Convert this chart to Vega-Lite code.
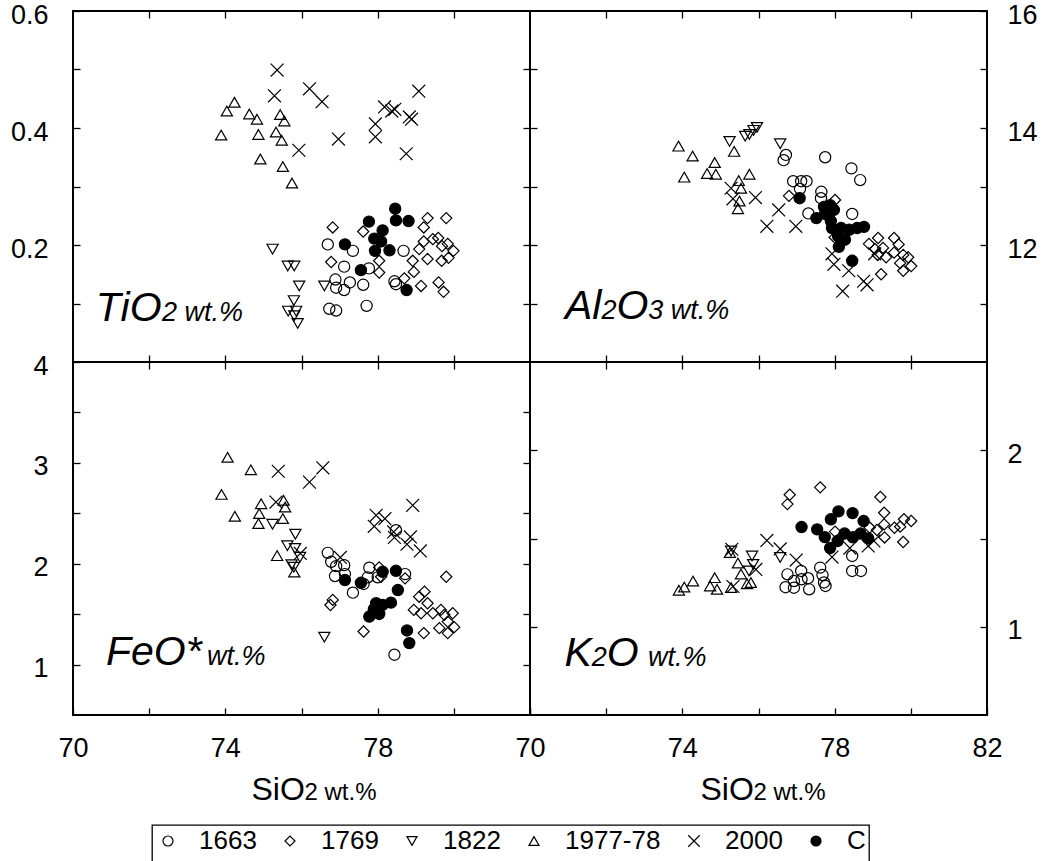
{
"$schema":"https://vega.github.io/schema/vega-lite/v6.json",
"background":"white",
"padding":{"left":9,"top":0,"right":0,"bottom":0},
"config":{
 "font":"Liberation Sans",
 "view":{"stroke":"black","strokeWidth":2},
 "axis":{"labelFont":"Liberation Sans","labelFontSize":27,"labelColor":"black","tickColor":"black","tickWidth":1.3,"domain":false,"grid":false,"labelFlush":false,"labelOverlap":false,"labelBound":false,"titleFont":"Liberation Sans","titleColor":"black","titleFontWeight":"normal"},
 "legend":{"strokeWidth":1.3}
},
"datasets":{
"pts":[
{"panel":"TiO2","group":"1977-78","SiO2":73.89,"oxide":0.388},{"panel":"TiO2","group":"1977-78","SiO2":74.04,"oxide":0.429},{"panel":"TiO2","group":"1977-78","SiO2":74.24,"oxide":0.444},{"panel":"TiO2","group":"1977-78","SiO2":74.63,"oxide":0.424},{"panel":"TiO2","group":"1977-78","SiO2":74.83,"oxide":0.415},{"panel":"TiO2","group":"1977-78","SiO2":74.87,"oxide":0.389},{"panel":"TiO2","group":"1977-78","SiO2":74.92,"oxide":0.347},{"panel":"TiO2","group":"1977-78","SiO2":75.44,"oxide":0.423},{"panel":"TiO2","group":"1977-78","SiO2":75.55,"oxide":0.412},{"panel":"TiO2","group":"1977-78","SiO2":75.33,"oxide":0.393},{"panel":"TiO2","group":"1977-78","SiO2":75.48,"oxide":0.379},{"panel":"TiO2","group":"1977-78","SiO2":75.51,"oxide":0.334},{"panel":"TiO2","group":"1977-78","SiO2":75.75,"oxide":0.306},
{"panel":"TiO2","group":"2000","SiO2":75.36,"oxide":0.499},{"panel":"TiO2","group":"2000","SiO2":75.29,"oxide":0.455},{"panel":"TiO2","group":"2000","SiO2":76.21,"oxide":0.467},{"panel":"TiO2","group":"2000","SiO2":76.54,"oxide":0.445},{"panel":"TiO2","group":"2000","SiO2":75.93,"oxide":0.362},{"panel":"TiO2","group":"2000","SiO2":76.97,"oxide":0.381},{"panel":"TiO2","group":"2000","SiO2":77.94,"oxide":0.407},{"panel":"TiO2","group":"2000","SiO2":77.94,"oxide":0.385},{"panel":"TiO2","group":"2000","SiO2":78.18,"oxide":0.436},{"panel":"TiO2","group":"2000","SiO2":78.37,"oxide":0.429},{"panel":"TiO2","group":"2000","SiO2":78.45,"oxide":0.432},{"panel":"TiO2","group":"2000","SiO2":78.83,"oxide":0.419},{"panel":"TiO2","group":"2000","SiO2":78.89,"oxide":0.415},{"panel":"TiO2","group":"2000","SiO2":79.08,"oxide":0.463},{"panel":"TiO2","group":"2000","SiO2":78.75,"oxide":0.356},
{"panel":"TiO2","group":"1822","SiO2":75.24,"oxide":0.193},{"panel":"TiO2","group":"1822","SiO2":75.64,"oxide":0.164},{"panel":"TiO2","group":"1822","SiO2":75.81,"oxide":0.164},{"panel":"TiO2","group":"1822","SiO2":75.94,"oxide":0.130},{"panel":"TiO2","group":"1822","SiO2":75.80,"oxide":0.105},{"panel":"TiO2","group":"1822","SiO2":75.65,"oxide":0.087},{"panel":"TiO2","group":"1822","SiO2":75.86,"oxide":0.087},{"panel":"TiO2","group":"1822","SiO2":75.81,"oxide":0.079},{"panel":"TiO2","group":"1822","SiO2":75.90,"oxide":0.066},{"panel":"TiO2","group":"1822","SiO2":76.60,"oxide":0.130},
{"panel":"TiO2","group":"1663","SiO2":76.69,"oxide":0.201},{"panel":"TiO2","group":"1663","SiO2":77.35,"oxide":0.190},{"panel":"TiO2","group":"1663","SiO2":77.12,"oxide":0.163},{"panel":"TiO2","group":"1663","SiO2":76.89,"oxide":0.141},{"panel":"TiO2","group":"1663","SiO2":76.91,"oxide":0.127},{"panel":"TiO2","group":"1663","SiO2":77.12,"oxide":0.123},{"panel":"TiO2","group":"1663","SiO2":77.27,"oxide":0.136},{"panel":"TiO2","group":"1663","SiO2":77.62,"oxide":0.132},{"panel":"TiO2","group":"1663","SiO2":77.77,"oxide":0.160},{"panel":"TiO2","group":"1663","SiO2":76.73,"oxide":0.091},{"panel":"TiO2","group":"1663","SiO2":76.91,"oxide":0.088},{"panel":"TiO2","group":"1663","SiO2":77.71,"oxide":0.096},{"panel":"TiO2","group":"1663","SiO2":78.44,"oxide":0.138},{"panel":"TiO2","group":"1663","SiO2":78.48,"oxide":0.133},{"panel":"TiO2","group":"1663","SiO2":78.68,"oxide":0.190},
{"panel":"TiO2","group":"1769","SiO2":76.82,"oxide":0.230},{"panel":"TiO2","group":"1769","SiO2":76.78,"oxide":0.171},{"panel":"TiO2","group":"1769","SiO2":77.62,"oxide":0.223},{"panel":"TiO2","group":"1769","SiO2":78.04,"oxide":0.173},{"panel":"TiO2","group":"1769","SiO2":78.04,"oxide":0.153},{"panel":"TiO2","group":"1769","SiO2":78.70,"oxide":0.143},{"panel":"TiO2","group":"1769","SiO2":78.95,"oxide":0.154},{"panel":"TiO2","group":"1769","SiO2":79.14,"oxide":0.130},{"panel":"TiO2","group":"1769","SiO2":78.92,"oxide":0.173},{"panel":"TiO2","group":"1769","SiO2":79.09,"oxide":0.193},{"panel":"TiO2","group":"1769","SiO2":79.21,"oxide":0.206},{"panel":"TiO2","group":"1769","SiO2":79.31,"oxide":0.246},{"panel":"TiO2","group":"1769","SiO2":79.21,"oxide":0.230},{"panel":"TiO2","group":"1769","SiO2":79.80,"oxide":0.246},{"panel":"TiO2","group":"1769","SiO2":79.31,"oxide":0.176},{"panel":"TiO2","group":"1769","SiO2":79.59,"oxide":0.212},{"panel":"TiO2","group":"1769","SiO2":79.69,"oxide":0.198},{"panel":"TiO2","group":"1769","SiO2":79.84,"oxide":0.202},{"panel":"TiO2","group":"1769","SiO2":79.68,"oxide":0.173},{"panel":"TiO2","group":"1769","SiO2":79.86,"oxide":0.178},{"panel":"TiO2","group":"1769","SiO2":79.99,"oxide":0.190},{"panel":"TiO2","group":"1769","SiO2":79.60,"oxide":0.136},{"panel":"TiO2","group":"1769","SiO2":79.73,"oxide":0.120},{"panel":"TiO2","group":"1769","SiO2":79.45,"oxide":0.210},
{"panel":"TiO2","group":"C","SiO2":77.14,"oxide":0.201},{"panel":"TiO2","group":"C","SiO2":77.77,"oxide":0.240},{"panel":"TiO2","group":"C","SiO2":78.46,"oxide":0.262},{"panel":"TiO2","group":"C","SiO2":78.48,"oxide":0.242},{"panel":"TiO2","group":"C","SiO2":78.81,"oxide":0.241},{"panel":"TiO2","group":"C","SiO2":78.13,"oxide":0.225},{"panel":"TiO2","group":"C","SiO2":77.91,"oxide":0.211},{"panel":"TiO2","group":"C","SiO2":78.09,"oxide":0.206},{"panel":"TiO2","group":"C","SiO2":77.93,"oxide":0.190},{"panel":"TiO2","group":"C","SiO2":78.31,"oxide":0.191},{"panel":"TiO2","group":"C","SiO2":77.56,"oxide":0.157},{"panel":"TiO2","group":"C","SiO2":78.76,"oxide":0.123},

{"panel":"Al2O3","group":"1977-78","SiO2":73.90,"oxide":13.69},{"panel":"Al2O3","group":"1977-78","SiO2":74.27,"oxide":13.52},{"panel":"Al2O3","group":"1977-78","SiO2":74.05,"oxide":13.16},{"panel":"Al2O3","group":"1977-78","SiO2":74.65,"oxide":13.22},{"panel":"Al2O3","group":"1977-78","SiO2":74.85,"oxide":13.41},{"panel":"Al2O3","group":"1977-78","SiO2":74.88,"oxide":13.21},{"panel":"Al2O3","group":"1977-78","SiO2":75.36,"oxide":13.60},{"panel":"Al2O3","group":"1977-78","SiO2":75.76,"oxide":13.21},{"panel":"Al2O3","group":"1977-78","SiO2":75.48,"oxide":13.10},{"panel":"Al2O3","group":"1977-78","SiO2":75.54,"oxide":12.97},{"panel":"Al2O3","group":"1977-78","SiO2":75.50,"oxide":12.75},{"panel":"Al2O3","group":"1977-78","SiO2":75.46,"oxide":12.62},
{"panel":"Al2O3","group":"1822","SiO2":75.24,"oxide":13.77},{"panel":"Al2O3","group":"1822","SiO2":75.65,"oxide":13.86},{"panel":"Al2O3","group":"1822","SiO2":75.76,"oxide":13.89},{"panel":"Al2O3","group":"1822","SiO2":75.87,"oxide":13.96},{"panel":"Al2O3","group":"1822","SiO2":75.96,"oxide":14.01},{"panel":"Al2O3","group":"1822","SiO2":76.57,"oxide":13.73},
{"panel":"Al2O3","group":"1663","SiO2":76.72,"oxide":13.54},{"panel":"Al2O3","group":"1663","SiO2":76.66,"oxide":13.45},{"panel":"Al2O3","group":"1663","SiO2":77.75,"oxide":13.50},{"panel":"Al2O3","group":"1663","SiO2":78.44,"oxide":13.31},{"panel":"Al2O3","group":"1663","SiO2":78.67,"oxide":13.11},{"panel":"Al2O3","group":"1663","SiO2":76.91,"oxide":13.09},{"panel":"Al2O3","group":"1663","SiO2":77.12,"oxide":13.09},{"panel":"Al2O3","group":"1663","SiO2":77.26,"oxide":13.09},{"panel":"Al2O3","group":"1663","SiO2":77.65,"oxide":12.91},{"panel":"Al2O3","group":"1663","SiO2":77.64,"oxide":12.80},{"panel":"Al2O3","group":"1663","SiO2":77.31,"oxide":12.54},{"panel":"Al2O3","group":"1663","SiO2":78.46,"oxide":12.53},{"panel":"Al2O3","group":"1663","SiO2":77.09,"oxide":12.96},
{"panel":"Al2O3","group":"1769","SiO2":76.80,"oxide":12.84},{"panel":"Al2O3","group":"1769","SiO2":78.01,"oxide":12.77},{"panel":"Al2O3","group":"1769","SiO2":78.00,"oxide":12.13},{"panel":"Al2O3","group":"1769","SiO2":78.90,"oxide":12.02},{"panel":"Al2O3","group":"1769","SiO2":79.14,"oxide":12.12},{"panel":"Al2O3","group":"1769","SiO2":79.27,"oxide":11.95},{"panel":"Al2O3","group":"1769","SiO2":79.13,"oxide":11.83},{"panel":"Al2O3","group":"1769","SiO2":79.35,"oxide":11.79},{"panel":"Al2O3","group":"1769","SiO2":79.56,"oxide":12.12},{"panel":"Al2O3","group":"1769","SiO2":79.68,"oxide":12.01},{"panel":"Al2O3","group":"1769","SiO2":79.56,"oxide":11.87},{"panel":"Al2O3","group":"1769","SiO2":79.80,"oxide":11.83},{"panel":"Al2O3","group":"1769","SiO2":79.93,"oxide":11.79},{"panel":"Al2O3","group":"1769","SiO2":79.72,"oxide":11.69},{"panel":"Al2O3","group":"1769","SiO2":79.80,"oxide":11.56},{"panel":"Al2O3","group":"1769","SiO2":80.01,"oxide":11.64},{"panel":"Al2O3","group":"1769","SiO2":79.22,"oxide":11.50},{"panel":"Al2O3","group":"1769","SiO2":79.06,"oxide":11.93},
{"panel":"Al2O3","group":"2000","SiO2":75.28,"oxide":12.97},{"panel":"Al2O3","group":"2000","SiO2":75.33,"oxide":12.79},{"panel":"Al2O3","group":"2000","SiO2":75.92,"oxide":12.81},{"panel":"Al2O3","group":"2000","SiO2":76.53,"oxide":12.60},{"panel":"Al2O3","group":"2000","SiO2":76.22,"oxide":12.32},{"panel":"Al2O3","group":"2000","SiO2":76.98,"oxide":12.32},{"panel":"Al2O3","group":"2000","SiO2":77.93,"oxide":11.85},{"panel":"Al2O3","group":"2000","SiO2":77.98,"oxide":11.67},{"panel":"Al2O3","group":"2000","SiO2":78.37,"oxide":11.56},{"panel":"Al2O3","group":"2000","SiO2":78.76,"oxide":11.38},{"panel":"Al2O3","group":"2000","SiO2":78.85,"oxide":11.32},{"panel":"Al2O3","group":"2000","SiO2":78.21,"oxide":11.21},{"panel":"Al2O3","group":"2000","SiO2":79.05,"oxide":11.85},
{"panel":"Al2O3","group":"C","SiO2":77.08,"oxide":12.80},{"panel":"Al2O3","group":"C","SiO2":77.52,"oxide":12.46},{"panel":"Al2O3","group":"C","SiO2":77.72,"oxide":12.65},{"panel":"Al2O3","group":"C","SiO2":77.88,"oxide":12.68},{"panel":"Al2O3","group":"C","SiO2":77.98,"oxide":12.60},{"panel":"Al2O3","group":"C","SiO2":77.75,"oxide":12.53},{"panel":"Al2O3","group":"C","SiO2":77.90,"oxide":12.41},{"panel":"Al2O3","group":"C","SiO2":77.93,"oxide":12.29},{"panel":"Al2O3","group":"C","SiO2":78.17,"oxide":12.29},{"panel":"Al2O3","group":"C","SiO2":78.38,"oxide":12.26},{"panel":"Al2O3","group":"C","SiO2":78.59,"oxide":12.29},{"panel":"Al2O3","group":"C","SiO2":78.77,"oxide":12.31},{"panel":"Al2O3","group":"C","SiO2":78.09,"oxide":12.15},{"panel":"Al2O3","group":"C","SiO2":78.27,"oxide":12.09},{"panel":"Al2O3","group":"C","SiO2":78.11,"oxide":11.97},{"panel":"Al2O3","group":"C","SiO2":78.46,"oxide":11.73},

{"panel":"FeO","group":"1977-78","SiO2":74.06,"oxide":3.055},{"panel":"FeO","group":"1977-78","SiO2":74.67,"oxide":2.931},{"panel":"FeO","group":"1977-78","SiO2":73.90,"oxide":2.687},{"panel":"FeO","group":"1977-78","SiO2":74.25,"oxide":2.470},{"panel":"FeO","group":"1977-78","SiO2":74.94,"oxide":2.595},{"panel":"FeO","group":"1977-78","SiO2":74.89,"oxide":2.497},{"panel":"FeO","group":"1977-78","SiO2":74.87,"oxide":2.398},{"panel":"FeO","group":"1977-78","SiO2":75.53,"oxide":2.628},{"panel":"FeO","group":"1977-78","SiO2":75.57,"oxide":2.562},{"panel":"FeO","group":"1977-78","SiO2":75.51,"oxide":2.447},{"panel":"FeO","group":"1977-78","SiO2":75.36,"oxide":2.080},{"panel":"FeO","group":"1977-78","SiO2":75.81,"oxide":1.917},
{"panel":"FeO","group":"1822","SiO2":75.24,"oxide":2.391},{"panel":"FeO","group":"1822","SiO2":75.84,"oxide":2.292},{"panel":"FeO","group":"1822","SiO2":75.63,"oxide":2.179},{"panel":"FeO","group":"1822","SiO2":75.83,"oxide":2.151},{"panel":"FeO","group":"1822","SiO2":75.96,"oxide":2.065},{"panel":"FeO","group":"1822","SiO2":75.74,"oxide":1.991},{"panel":"FeO","group":"1822","SiO2":75.80,"oxide":1.966},{"panel":"FeO","group":"1822","SiO2":76.60,"oxide":1.272},
{"panel":"FeO","group":"2000","SiO2":75.39,"oxide":2.917},{"panel":"FeO","group":"2000","SiO2":76.56,"oxide":2.951},{"panel":"FeO","group":"2000","SiO2":76.21,"oxide":2.809},{"panel":"FeO","group":"2000","SiO2":75.33,"oxide":2.611},{"panel":"FeO","group":"2000","SiO2":75.97,"oxide":2.102},{"panel":"FeO","group":"2000","SiO2":77.96,"oxide":2.480},{"panel":"FeO","group":"2000","SiO2":78.19,"oxide":2.447},{"panel":"FeO","group":"2000","SiO2":77.91,"oxide":2.371},{"panel":"FeO","group":"2000","SiO2":78.92,"oxide":2.579},{"panel":"FeO","group":"2000","SiO2":78.42,"oxide":2.315},{"panel":"FeO","group":"2000","SiO2":78.44,"oxide":2.260},{"panel":"FeO","group":"2000","SiO2":78.86,"oxide":2.266},{"panel":"FeO","group":"2000","SiO2":78.77,"oxide":2.193},{"panel":"FeO","group":"2000","SiO2":79.12,"oxide":2.127},{"panel":"FeO","group":"2000","SiO2":77.02,"oxide":2.062},
{"panel":"FeO","group":"1663","SiO2":76.69,"oxide":2.108},{"panel":"FeO","group":"1663","SiO2":76.78,"oxide":2.019},{"panel":"FeO","group":"1663","SiO2":76.91,"oxide":1.976},{"panel":"FeO","group":"1663","SiO2":77.12,"oxide":1.986},{"panel":"FeO","group":"1663","SiO2":76.88,"oxide":1.878},{"panel":"FeO","group":"1663","SiO2":77.14,"oxide":1.897},{"panel":"FeO","group":"1663","SiO2":77.35,"oxide":1.713},{"panel":"FeO","group":"1663","SiO2":77.63,"oxide":1.799},{"panel":"FeO","group":"1663","SiO2":77.74,"oxide":1.865},{"panel":"FeO","group":"1663","SiO2":77.78,"oxide":1.960},{"panel":"FeO","group":"1663","SiO2":78.00,"oxide":1.865},{"panel":"FeO","group":"1663","SiO2":78.72,"oxide":1.897},{"panel":"FeO","group":"1663","SiO2":78.44,"oxide":1.098},{"panel":"FeO","group":"1663","SiO2":78.48,"oxide":2.332},
{"panel":"FeO","group":"1769","SiO2":76.82,"oxide":1.641},{"panel":"FeO","group":"1769","SiO2":76.76,"oxide":1.591},{"panel":"FeO","group":"1769","SiO2":78.04,"oxide":1.963},{"panel":"FeO","group":"1769","SiO2":78.09,"oxide":1.871},{"panel":"FeO","group":"1769","SiO2":78.72,"oxide":1.855},{"panel":"FeO","group":"1769","SiO2":77.63,"oxide":1.328},{"panel":"FeO","group":"1769","SiO2":79.21,"oxide":1.312},{"panel":"FeO","group":"1769","SiO2":79.80,"oxide":1.871},{"panel":"FeO","group":"1769","SiO2":79.23,"oxide":1.723},{"panel":"FeO","group":"1769","SiO2":79.09,"oxide":1.673},{"panel":"FeO","group":"1769","SiO2":79.31,"oxide":1.608},{"panel":"FeO","group":"1769","SiO2":78.95,"oxide":1.542},{"panel":"FeO","group":"1769","SiO2":79.14,"oxide":1.509},{"panel":"FeO","group":"1769","SiO2":79.45,"oxide":1.509},{"panel":"FeO","group":"1769","SiO2":79.66,"oxide":1.542},{"panel":"FeO","group":"1769","SiO2":79.75,"oxide":1.493},{"panel":"FeO","group":"1769","SiO2":79.97,"oxide":1.509},{"panel":"FeO","group":"1769","SiO2":79.84,"oxide":1.426},{"panel":"FeO","group":"1769","SiO2":80.01,"oxide":1.371},{"panel":"FeO","group":"1769","SiO2":79.62,"oxide":1.361},{"panel":"FeO","group":"1769","SiO2":79.84,"oxide":1.312},
{"panel":"FeO","group":"C","SiO2":77.14,"oxide":1.838},{"panel":"FeO","group":"C","SiO2":77.56,"oxide":1.811},{"panel":"FeO","group":"C","SiO2":78.13,"oxide":1.920},{"panel":"FeO","group":"C","SiO2":78.48,"oxide":1.930},{"panel":"FeO","group":"C","SiO2":78.53,"oxide":1.739},{"panel":"FeO","group":"C","SiO2":78.35,"oxide":1.614},{"panel":"FeO","group":"C","SiO2":78.13,"oxide":1.591},{"panel":"FeO","group":"C","SiO2":77.96,"oxide":1.608},{"panel":"FeO","group":"C","SiO2":77.90,"oxide":1.549},{"panel":"FeO","group":"C","SiO2":77.78,"oxide":1.476},{"panel":"FeO","group":"C","SiO2":78.04,"oxide":1.502},{"panel":"FeO","group":"C","SiO2":78.77,"oxide":1.338},{"panel":"FeO","group":"C","SiO2":78.83,"oxide":1.213},

{"panel":"K2O","group":"1977-78","SiO2":73.91,"oxide":1.207},{"panel":"K2O","group":"1977-78","SiO2":74.05,"oxide":1.225},{"panel":"K2O","group":"1977-78","SiO2":74.28,"oxide":1.259},{"panel":"K2O","group":"1977-78","SiO2":74.73,"oxide":1.231},{"panel":"K2O","group":"1977-78","SiO2":74.85,"oxide":1.278},{"panel":"K2O","group":"1977-78","SiO2":74.91,"oxide":1.212},{"panel":"K2O","group":"1977-78","SiO2":75.28,"oxide":1.222},{"panel":"K2O","group":"1977-78","SiO2":75.46,"oxide":1.361},{"panel":"K2O","group":"1977-78","SiO2":75.54,"oxide":1.299},{"panel":"K2O","group":"1977-78","SiO2":75.70,"oxide":1.244},{"panel":"K2O","group":"1977-78","SiO2":75.25,"oxide":1.421},{"panel":"K2O","group":"1977-78","SiO2":75.80,"oxide":1.250},
{"panel":"K2O","group":"1822","SiO2":75.28,"oxide":1.429},{"panel":"K2O","group":"1822","SiO2":75.83,"oxide":1.401},{"panel":"K2O","group":"1822","SiO2":75.86,"oxide":1.353},{"panel":"K2O","group":"1822","SiO2":76.57,"oxide":1.392},{"panel":"K2O","group":"1822","SiO2":75.75,"oxide":1.316},
{"panel":"K2O","group":"2000","SiO2":75.30,"oxide":1.439},{"panel":"K2O","group":"2000","SiO2":76.22,"oxide":1.489},{"panel":"K2O","group":"2000","SiO2":76.57,"oxide":1.441},{"panel":"K2O","group":"2000","SiO2":76.99,"oxide":1.378},{"panel":"K2O","group":"2000","SiO2":75.93,"oxide":1.325},{"panel":"K2O","group":"2000","SiO2":75.33,"oxide":1.228},{"panel":"K2O","group":"2000","SiO2":77.93,"oxide":1.395},{"panel":"K2O","group":"2000","SiO2":78.40,"oxide":1.446},{"panel":"K2O","group":"2000","SiO2":78.88,"oxide":1.458},{"panel":"K2O","group":"2000","SiO2":79.03,"oxide":1.486},
{"panel":"K2O","group":"1663","SiO2":76.76,"oxide":1.297},{"panel":"K2O","group":"1663","SiO2":77.12,"oxide":1.316},{"panel":"K2O","group":"1663","SiO2":76.71,"oxide":1.224},{"panel":"K2O","group":"1663","SiO2":76.93,"oxide":1.221},{"panel":"K2O","group":"1663","SiO2":77.13,"oxide":1.269},{"panel":"K2O","group":"1663","SiO2":77.30,"oxide":1.275},{"panel":"K2O","group":"1663","SiO2":77.33,"oxide":1.212},{"panel":"K2O","group":"1663","SiO2":77.62,"oxide":1.335},{"panel":"K2O","group":"1663","SiO2":77.68,"oxide":1.293},{"panel":"K2O","group":"1663","SiO2":77.72,"oxide":1.251},{"panel":"K2O","group":"1663","SiO2":77.76,"oxide":1.231},{"panel":"K2O","group":"1663","SiO2":78.46,"oxide":1.401},{"panel":"K2O","group":"1663","SiO2":78.46,"oxide":1.316},{"panel":"K2O","group":"1663","SiO2":78.69,"oxide":1.316},{"panel":"K2O","group":"1663","SiO2":76.93,"oxide":1.259},
{"panel":"K2O","group":"1769","SiO2":76.82,"oxide":1.748},{"panel":"K2O","group":"1769","SiO2":76.76,"oxide":1.695},{"panel":"K2O","group":"1769","SiO2":77.62,"oxide":1.790},{"panel":"K2O","group":"1769","SiO2":79.20,"oxide":1.735},{"panel":"K2O","group":"1769","SiO2":79.30,"oxide":1.646},{"panel":"K2O","group":"1769","SiO2":79.82,"oxide":1.609},{"panel":"K2O","group":"1769","SiO2":80.01,"oxide":1.599},{"panel":"K2O","group":"1769","SiO2":79.72,"oxide":1.567},{"panel":"K2O","group":"1769","SiO2":79.57,"oxide":1.561},{"panel":"K2O","group":"1769","SiO2":79.30,"oxide":1.580},{"panel":"K2O","group":"1769","SiO2":79.11,"oxide":1.548},{"panel":"K2O","group":"1769","SiO2":79.31,"oxide":1.506},{"panel":"K2O","group":"1769","SiO2":79.80,"oxide":1.480},{"panel":"K2O","group":"1769","SiO2":78.92,"oxide":1.562},{"panel":"K2O","group":"1769","SiO2":78.01,"oxide":1.539},
{"panel":"K2O","group":"C","SiO2":77.13,"oxide":1.565},{"panel":"K2O","group":"C","SiO2":77.54,"oxide":1.552},{"panel":"K2O","group":"C","SiO2":77.90,"oxide":1.609},{"panel":"K2O","group":"C","SiO2":78.10,"oxide":1.654},{"panel":"K2O","group":"C","SiO2":78.47,"oxide":1.644},{"panel":"K2O","group":"C","SiO2":78.76,"oxide":1.599},{"panel":"K2O","group":"C","SiO2":77.74,"oxide":1.508},{"panel":"K2O","group":"C","SiO2":77.88,"oxide":1.446},{"panel":"K2O","group":"C","SiO2":78.26,"oxide":1.528},{"panel":"K2O","group":"C","SiO2":78.48,"oxide":1.507},{"panel":"K2O","group":"C","SiO2":78.68,"oxide":1.528},{"panel":"K2O","group":"C","SiO2":78.88,"oxide":1.501},{"panel":"K2O","group":"C","SiO2":78.08,"oxide":1.486}
],
"lbl":[
{"panel":"TiO2","t":"TiO","SiO2":70.60,"oxide":0.070,"big":true},{"panel":"TiO2","t":"2 wt.%","SiO2":72.337,"oxide":0.070,"big":false},
{"panel":"Al2O3","t":"Al","SiO2":70.919,"oxide":10.735,"big":true},{"panel":"Al2O3","t":"2","SiO2":71.875,"oxide":10.735,"big":false},{"panel":"Al2O3","t":"O","SiO2":72.269,"oxide":10.735,"big":true},{"panel":"Al2O3","t":"3 wt.%","SiO2":73.107,"oxide":10.735,"big":false},
{"panel":"FeO","t":"FeO*","SiO2":70.867,"oxide":1.0,"big":true},{"panel":"FeO","t":"wt.%","SiO2":73.519,"oxide":1.0,"big":false},
{"panel":"K2O","t":"K","SiO2":70.906,"oxide":0.778,"big":true},{"panel":"K2O","t":"2","SiO2":71.623,"oxide":0.778,"big":false},{"panel":"K2O","t":"O","SiO2":72.017,"oxide":0.778,"big":true},{"panel":"K2O","t":"wt.%","SiO2":73.099,"oxide":0.778,"big":false}
]
},
"columns":2,
"spacing":0,
"bounds":"flush",
"resolve":{"scale":{"shape":"shared","fill":"shared","stroke":"shared"},"legend":{"shape":"shared","fill":"shared","stroke":"shared"}},
"concat":[
 {"width":457,"height":351,
  "layer":[
   {"data":{"name":"pts"},"transform":[{"filter":"datum.panel=='TiO2'"}],
    "mark":{"type":"point","filled":false,"size":125,"strokeWidth":1.2,"opacity":1},
    "encoding":{
     "x":{"field":"SiO2","type":"quantitative","scale":{"domain":[70,82],"nice":false,"zero":false},"axis":{"orient":"bottom","labels":false,"tickSize":7,"offset":-7,"values":[72,74,76,78,80],"title":null}},
     "y":{"field":"oxide","type":"quantitative","scale":{"domain":[0,0.6],"nice":false,"zero":false},"axis":{"orient":"left","values":[0.1,0.2,0.3,0.4,0.5,0.6],"format":".1f","labelExpr":"round(datum.value*10)%2==1?'':datum.label","tickSize":7,"offset":-7,"labelPadding":25,"labelOffset":4,"title":null}},
     "shape":{"field":"group","type":"nominal","scale":{"domain":["1663","1769","1822","1977-78","2000","C"],"range":["circle","diamond","triangle-down","triangle-up","M-1.15,-1.15L1.15,1.15M-1.15,1.15L1.15,-1.15","circle"]},
      "legend":{"orient":"none","legendX":79,"legendY":814,"direction":"horizontal","columns":6,"title":[" "," "," "],"titleOrient":"left","titleFontSize":10,"titleLineHeight":14,"titlePadding":0,"strokeColor":"black","padding":3,"labelFont":"Liberation Sans","labelFontSize":26,"labelColor":"black","labelOffset":18,"columnPadding":20,"symbolSize":100,"symbolStrokeWidth":1.2,"fillColor":"white"}},
     "fill":{"field":"group","type":"nominal","scale":{"domain":["1663","1769","1822","1977-78","2000","C"],"range":["transparent","transparent","transparent","transparent","transparent","black"]}},
     "stroke":{"field":"group","type":"nominal","scale":{"domain":["1663","1769","1822","1977-78","2000","C"],"range":["black","black","black","black","black","black"]}}
    }},
   {"data":{"name":"lbl"},"transform":[{"filter":"datum.panel=='TiO2' && datum.big"}],
    "mark":{"type":"text","font":"Liberation Sans","fontStyle":"italic","fontSize":41,"align":"left","baseline":"alphabetic","color":"black"},
    "encoding":{
     "x":{"field":"SiO2","type":"quantitative","scale":{"domain":[70,82],"nice":false,"zero":false},"axis":{"orient":"top","labels":false,"tickSize":7,"offset":-7,"values":[72,74,76,78,80],"title":null}},
     "y":{"field":"oxide","type":"quantitative","scale":{"domain":[0,0.6],"nice":false,"zero":false},"axis":{"orient":"right","labels":false,"tickSize":7,"offset":-7,"values":[0.1,0.2,0.3,0.4,0.5],"title":null}},
     "text":{"field":"t"}}},
   {"data":{"name":"lbl"},"transform":[{"filter":"datum.panel=='TiO2' && !datum.big"}],
    "mark":{"type":"text","font":"Liberation Sans","fontStyle":"italic","fontSize":27,"align":"left","baseline":"alphabetic","color":"black"},
    "encoding":{
     "x":{"field":"SiO2","type":"quantitative","scale":{"domain":[70,82],"nice":false,"zero":false},"axis":null},
     "y":{"field":"oxide","type":"quantitative","scale":{"domain":[0,0.6],"nice":false,"zero":false},"axis":null},
     "text":{"field":"t"}}}
  ],
  "resolve":{"axis":{"x":"independent","y":"independent"}}},
 {"width":457,"height":351,
  "layer":[
   {"data":{"name":"pts"},"transform":[{"filter":"datum.panel=='Al2O3'"}],
    "mark":{"type":"point","filled":false,"size":125,"strokeWidth":1.2,"opacity":1},
    "encoding":{
     "x":{"field":"SiO2","type":"quantitative","scale":{"domain":[70,82],"nice":false,"zero":false},"axis":{"orient":"bottom","labels":false,"tickSize":7,"offset":-7,"values":[72,74,76,78,80],"title":null}},
     "y":{"field":"oxide","type":"quantitative","scale":{"domain":[10,16],"nice":false,"zero":false},"axis":{"orient":"right","values":[11,12,13,14,15,16],"format":"d","labelExpr":"datum.value%2==1?'':datum.label","tickSize":7,"offset":-7,"labelPadding":20,"labelOffset":4,"title":null}},
     "shape":{"field":"group","type":"nominal","scale":{"domain":["1663","1769","1822","1977-78","2000","C"],"range":["circle","diamond","triangle-down","triangle-up","M-1.15,-1.15L1.15,1.15M-1.15,1.15L1.15,-1.15","circle"]}},
     "fill":{"field":"group","type":"nominal","scale":{"domain":["1663","1769","1822","1977-78","2000","C"],"range":["transparent","transparent","transparent","transparent","transparent","black"]}},
     "stroke":{"field":"group","type":"nominal","scale":{"domain":["1663","1769","1822","1977-78","2000","C"],"range":["black","black","black","black","black","black"]}}
    }},
   {"data":{"name":"lbl"},"transform":[{"filter":"datum.panel=='Al2O3' && datum.big"}],
    "mark":{"type":"text","font":"Liberation Sans","fontStyle":"italic","fontSize":41,"align":"left","baseline":"alphabetic","color":"black"},
    "encoding":{
     "x":{"field":"SiO2","type":"quantitative","scale":{"domain":[70,82],"nice":false,"zero":false},"axis":{"orient":"top","labels":false,"tickSize":7,"offset":-7,"values":[72,74,76,78,80],"title":null}},
     "y":{"field":"oxide","type":"quantitative","scale":{"domain":[10,16],"nice":false,"zero":false},"axis":{"orient":"left","labels":false,"tickSize":7,"offset":-7,"values":[11,12,13,14,15],"title":null}},
     "text":{"field":"t"}}},
   {"data":{"name":"lbl"},"transform":[{"filter":"datum.panel=='Al2O3' && !datum.big"}],
    "mark":{"type":"text","font":"Liberation Sans","fontStyle":"italic","fontSize":27,"align":"left","baseline":"alphabetic","color":"black"},
    "encoding":{
     "x":{"field":"SiO2","type":"quantitative","scale":{"domain":[70,82],"nice":false,"zero":false},"axis":null},
     "y":{"field":"oxide","type":"quantitative","scale":{"domain":[10,16],"nice":false,"zero":false},"axis":null},
     "text":{"field":"t"}}}
  ],
  "resolve":{"axis":{"x":"independent","y":"independent"}}},
 {"width":457,"height":353,
  "layer":[
   {"data":{"name":"pts"},"transform":[{"filter":"datum.panel=='FeO'"}],
    "mark":{"type":"point","filled":false,"size":125,"strokeWidth":1.2,"opacity":1},
    "encoding":{
     "x":{"field":"SiO2","type":"quantitative","scale":{"domain":[70,82],"nice":false,"zero":false},"axis":{"orient":"bottom","values":[70,72,74,76,78,80,82],"format":"d","labelExpr":"(datum.value%4==0||datum.value==82)?'':datum.label","tickSize":7,"offset":-7,"labelPadding":20,"title":"SiO","titleX":178,"titleY":91,"titleAlign":"left","titleBaseline":"alphabetic","titleFontSize":32,"titleAngle":0}},
     "y":{"field":"oxide","type":"quantitative","scale":{"domain":[0.5,4],"nice":false,"zero":false},"axis":{"orient":"left","values":[1,1.5,2,2.5,3,3.5,4],"labelExpr":"datum.value%1==0?format(datum.value,'d'):''","tickSize":7,"offset":-7,"labelPadding":25,"labelOffset":4,"title":null}},
     "shape":{"field":"group","type":"nominal","scale":{"domain":["1663","1769","1822","1977-78","2000","C"],"range":["circle","diamond","triangle-down","triangle-up","M-1.15,-1.15L1.15,1.15M-1.15,1.15L1.15,-1.15","circle"]}},
     "fill":{"field":"group","type":"nominal","scale":{"domain":["1663","1769","1822","1977-78","2000","C"],"range":["transparent","transparent","transparent","transparent","transparent","black"]}},
     "stroke":{"field":"group","type":"nominal","scale":{"domain":["1663","1769","1822","1977-78","2000","C"],"range":["black","black","black","black","black","black"]}}
    }},
   {"data":{"name":"lbl"},"transform":[{"filter":"datum.panel=='FeO' && datum.big"}],
    "mark":{"type":"text","font":"Liberation Sans","fontStyle":"italic","fontSize":41,"align":"left","baseline":"alphabetic","color":"black"},
    "encoding":{
     "x":{"field":"SiO2","type":"quantitative","scale":{"domain":[70,82],"nice":false,"zero":false},"axis":{"orient":"top","labels":false,"tickSize":7,"offset":-7,"values":[72,74,76,78,80],"title":null}},
     "y":{"field":"oxide","type":"quantitative","scale":{"domain":[0.5,4],"nice":false,"zero":false},"axis":{"orient":"right","labels":false,"tickSize":7,"offset":-7,"values":[1,1.5,2,2.5,3,3.5],"title":null}},
     "text":{"field":"t"}}},
   {"data":{"name":"lbl"},"transform":[{"filter":"datum.panel=='FeO' && !datum.big"}],
    "mark":{"type":"text","font":"Liberation Sans","fontStyle":"italic","fontSize":27,"align":"left","baseline":"alphabetic","color":"black"},
    "encoding":{
     "x":{"field":"SiO2","type":"quantitative","scale":{"domain":[70,82],"nice":false,"zero":false},"axis":{"orient":"bottom","labels":false,"ticks":false,"offset":-7,"title":"2 wt.%","titleX":231,"titleY":91,"titleAlign":"left","titleBaseline":"alphabetic","titleFontSize":24,"titleAngle":0}},
     "y":{"field":"oxide","type":"quantitative","scale":{"domain":[0.5,4],"nice":false,"zero":false},"axis":null},
     "text":{"field":"t"}}}
  ],
  "resolve":{"axis":{"x":"independent","y":"independent"}}},
 {"width":457,"height":353,
  "layer":[
   {"data":{"name":"pts"},"transform":[{"filter":"datum.panel=='K2O'"}],
    "mark":{"type":"point","filled":false,"size":125,"strokeWidth":1.2,"opacity":1},
    "encoding":{
     "x":{"field":"SiO2","type":"quantitative","scale":{"domain":[70,82],"nice":false,"zero":false},"axis":{"orient":"bottom","values":[70,72,74,76,78,80,82],"format":"d","labelExpr":"datum.value%4==0?'':datum.label","tickSize":7,"offset":-7,"labelPadding":20,"title":"SiO","titleX":170,"titleY":91,"titleAlign":"left","titleBaseline":"alphabetic","titleFontSize":32,"titleAngle":0}},
     "y":{"field":"oxide","type":"quantitative","scale":{"domain":[0.5,2.5],"nice":false,"zero":false},"axis":{"orient":"right","values":[1,1.5,2],"labelExpr":"datum.value%1==0?format(datum.value,'d'):''","tickSize":7,"offset":-7,"labelPadding":20,"labelOffset":4,"title":null}},
     "shape":{"field":"group","type":"nominal","scale":{"domain":["1663","1769","1822","1977-78","2000","C"],"range":["circle","diamond","triangle-down","triangle-up","M-1.15,-1.15L1.15,1.15M-1.15,1.15L1.15,-1.15","circle"]}},
     "fill":{"field":"group","type":"nominal","scale":{"domain":["1663","1769","1822","1977-78","2000","C"],"range":["transparent","transparent","transparent","transparent","transparent","black"]}},
     "stroke":{"field":"group","type":"nominal","scale":{"domain":["1663","1769","1822","1977-78","2000","C"],"range":["black","black","black","black","black","black"]}}
    }},
   {"data":{"name":"lbl"},"transform":[{"filter":"datum.panel=='K2O' && datum.big"}],
    "mark":{"type":"text","font":"Liberation Sans","fontStyle":"italic","fontSize":41,"align":"left","baseline":"alphabetic","color":"black"},
    "encoding":{
     "x":{"field":"SiO2","type":"quantitative","scale":{"domain":[70,82],"nice":false,"zero":false},"axis":{"orient":"top","labels":false,"tickSize":7,"offset":-7,"values":[72,74,76,78,80],"title":null}},
     "y":{"field":"oxide","type":"quantitative","scale":{"domain":[0.5,2.5],"nice":false,"zero":false},"axis":{"orient":"left","labels":false,"tickSize":7,"offset":-7,"values":[1,1.5,2],"title":null}},
     "text":{"field":"t"}}},
   {"data":{"name":"lbl"},"transform":[{"filter":"datum.panel=='K2O' && !datum.big"}],
    "mark":{"type":"text","font":"Liberation Sans","fontStyle":"italic","fontSize":27,"align":"left","baseline":"alphabetic","color":"black"},
    "encoding":{
     "x":{"field":"SiO2","type":"quantitative","scale":{"domain":[70,82],"nice":false,"zero":false},"axis":{"orient":"bottom","labels":false,"ticks":false,"offset":-7,"title":"2 wt.%","titleX":223,"titleY":91,"titleAlign":"left","titleBaseline":"alphabetic","titleFontSize":24,"titleAngle":0}},
     "y":{"field":"oxide","type":"quantitative","scale":{"domain":[0.5,2.5],"nice":false,"zero":false},"axis":null},
     "text":{"field":"t"}}}
  ],
  "resolve":{"axis":{"x":"independent","y":"independent"}}}
]
}
